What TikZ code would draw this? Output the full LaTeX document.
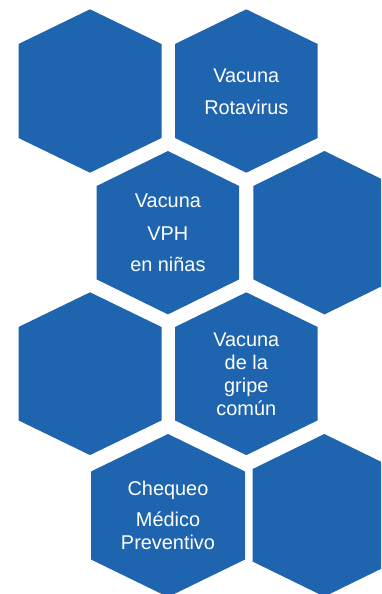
\documentclass[tikz,border=0pt]{standalone}
\usepackage{fontspec}
\setmainfont{Liberation Sans}
\definecolor{hexblue}{HTML}{1F64AE}
\newcommand{\hexa}[5]{%
  \fill[hexfill] ({#1},{#2-#4}) -- ({#1+#3},{#2-#5}) -- ({#1+#3},{#2+#5}) --
    ({#1},{#2+#4}) -- ({#1-#3},{#2+#5}) -- ({#1-#3},{#2-#5}) -- cycle;}
\tikzset{
  hexfill/.style={fill=hexblue},
  hextext/.style={text=white, anchor=base, inner sep=0pt,
    font=\fontsize{19.9}{20}\selectfont}
}
\begin{document}
\begin{tikzpicture}[x=1pt,y=-1pt]
\useasboundingbox (0,0) rectangle (381,594);
\clip (0,0) rectangle (381,594);
\hexa{90}{91}{71.5}{81.7}{47}
\hexa{246.3}{91}{71.3}{81.7}{47}
\hexa{167.9}{232.7}{71.2}{81.7}{46.7}
\hexa{324.5}{232.7}{71.2}{81.7}{46.7}
\hexa{90}{373.7}{71.5}{81.4}{46.7}
\hexa{246.3}{373.7}{71.3}{81.4}{46.7}
\hexa{168}{515.5}{77}{81.5}{44}
\hexa{324.3}{515.3}{71.6}{81.3}{46.3}
% texts
\node[hextext] (r1) at (246.3,82.7) {Vacuna};
\node[hextext] (r2) at (246.3,114.3) {Rotavirus};
\node[hextext] (v1) at (167.9,207.7) {Vacuna};
\node[hextext] (v2) at (167.9,240) {VPH};
\node[hextext] (v3) at (167.9,271.7) {en niñas};
\node[hextext] (g1) at (246.3,346.7) {Vacuna};
\node[hextext] (g2) at (246.3,369.3) {de la};
\node[hextext] (g3) at (246.3,392.3) {gripe};
\node[hextext] (g4) at (246.3,415) {común};
\node[hextext] (c1) at (168,495) {Chequeo};
\node[hextext] (c2) at (168,526.7) {Médico};
\node[hextext] (c3) at (168,549.3) {Preventivo};
\end{tikzpicture}
\end{document}
